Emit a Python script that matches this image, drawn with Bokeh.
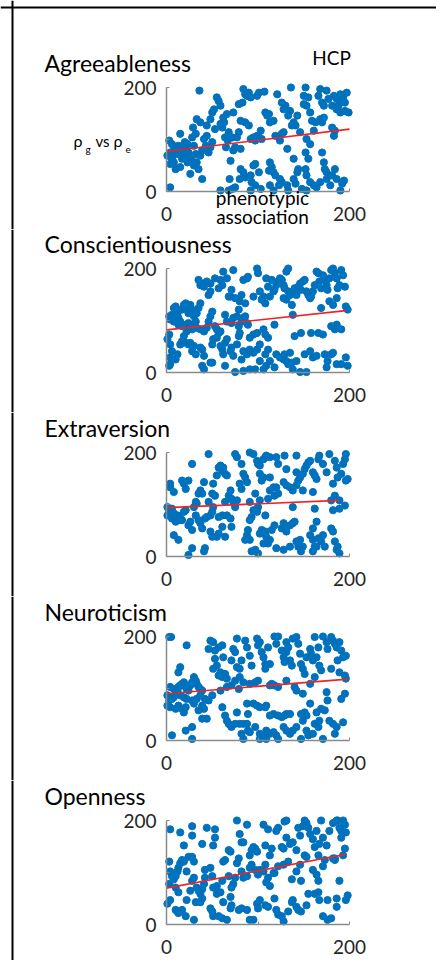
from bokeh.plotting import figure
from bokeh.models import Range1d, FixedTicker, Label, Span
from bokeh.layouts import column
from bokeh.embed import file_html
from bokeh.resources import INLINE

# ---------------- data ----------------
traits = ["Agreeableness", "Conscientiousness", "Extraversion", "Neuroticism", "Openness"]
axis_ticks = [0, 100, 200]
axis_tick_labels = {0: "0", 100: "", 200: "200"}

agreeableness_xy = [
    (3,98),(6,91),(4,75),(1,69),(8,79),(12,82),(13,88),(15,111),(11,72),(6,63),(8,56),(4,53),(10,43),
    (15,47),(17,63),(19,69),(17,79),(21,85),(23,91),(20,95),(24,75),(25,66),(23,56),(28,59),(26,34),
    (30,50),(33,56),(32,72),(30,88),(28,104),(32,111),(29,123),(33,139),(37,133),(36,194),(4,8),(39,24),
    (35,43),(37,69),(39,79),(41,101),(43,88),(44,107),(46,75),(48,85),(50,95),(44,127),(48,139),(50,152),
    (52,158),(55,181),(57,174),(59,165),(53,120),(59,130),(61,123),(63,133),(62,142),(66,149),(64,104),
    (67,98),(68,114),(65,85),(70,59),(73,79),(75,85),(72,104),(77,104),(79,114),(81,82),(69,24),(72,5),
    (59,2),(68,2),(75,8),(80,24),(81,43),(73,152),(79,168),(83,171),(84,197),(86,187),(88,184),(90,190),
    (92,181),(81,136),(86,133),(90,127),(92,101),(95,104),(97,98),(99,107),(101,104),(103,117),(104,101),
    (84,37),(86,27),(92,31),(95,50),(97,53),(101,37),(93,18),(97,12),(103,5),(92,2),(99,184),(101,190),
    (107,192),(108,152),(110,146),(112,149),(113,133),(117,136),(119,107),(121,187),(123,104),(124,98),
    (126,111),(128,114),(113,56),(115,47),(112,40),(117,37),(119,31),(124,24),(126,18),(123,12),(117,2),
    (113,12),(132,12),(133,2),(136,200),(139,24),(141,15),(143,37),(139,63),(144,43),(132,82),(128,158),
    (130,165),(126,171),(133,146),(135,155),(139,133),(141,127),(143,146),(137,127),(146,114),(152,200),
    (150,184),(155,181),(150,168),(153,165),(157,152),(159,136),(161,117),(163,133),(153,101),(157,91),
    (152,75),(155,63),(152,43),(153,31),(157,18),(161,12),(148,5),(153,2),(168,197),(166,184),(170,171),
    (172,165),(175,194),(177,178),(181,165),(183,184),(186,178),(190,187),(192,174),(193,181),(195,171),
    (197,190),(186,158),(188,165),(190,152),(195,155),(199,152),(168,139),(170,133),(172,142),(181,123),
    (184,117),(183,107),(170,75),(172,56),(173,43),(175,37),(181,31),(184,43),(186,24),(192,15),(190,2),
    (179,12),(175,24),(168,18),(164,8),(194,21),
]

conscientiousness_xy = [
    (3,108),(4,102),(6,111),(8,124),(10,127),(12,114),(13,105),(15,98),(17,121),(19,130),(21,133),(22,124),
    (24,114),(26,130),(28,121),(30,108),(32,98),(33,114),(35,124),(37,133),(3,73),(1,64),(4,54),(6,41),
    (4,29),(3,13),(10,25),(12,35),(15,54),(17,60),(19,70),(22,79),(21,57),(24,54),(26,57),(30,51),(28,41),
    (32,35),(37,48),(39,44),(41,32),(39,13),(41,6),(50,19),(8,98),(13,92),(17,89),(21,92),(24,95),(26,89),
    (30,92),(28,83),(33,86),(37,83),(41,79),(44,86),(46,98),(48,108),(50,117),(53,89),(55,83),(57,76),
    (59,79),(55,67),(51,64),(50,54),(59,51),(61,44),(64,57),(66,64),(62,35),(70,41),(73,32),(71,48),(77,54),
    (79,70),(80,76),(82,98),(71,95),(73,105),(77,108),(79,89),(66,98),(64,111),(86,108),(88,95),(89,92),
    (86,133),(80,137),(84,105),(35,178),(37,168),(39,171),(41,165),(44,175),(48,171),(46,149),(48,156),
    (53,181),(57,162),(59,178),(61,168),(62,194),(66,181),(68,146),(70,146),(71,159),(73,197),(75,143),
    (79,121),(82,149),(84,178),(88,181),(89,184),(95,146),(99,200),(100,191),(102,156),(104,140),(106,146),
    (108,133),(109,181),(111,165),(113,146),(115,178),(117,156),(118,159),(120,168),(122,175),(124,181),
    (126,178),(128,168),(129,162),(131,194),(133,200),(128,143),(131,140),(133,156),(135,149),(137,130),
    (138,156),(140,162),(142,149),(144,165),(146,171),(147,159),(149,175),(151,178),(153,156),(155,149),
    (157,143),(158,146),(160,156),(162,168),(164,194),(166,191),(167,175),(169,162),(171,187),(173,178),
    (175,168),(176,159),(178,181),(180,197),(182,200),(184,191),(186,181),(187,162),(189,168),(191,197),
    (193,187),(195,165),(186,143),(178,137),(182,130),(169,124),(196,127),(198,121),(138,111),(91,67),
    (95,73),(99,76),(102,54),(99,44),(95,38),(91,44),(84,41),(88,35),(82,25),(84,3),(91,6),(97,6),(102,22),
    (108,35),(111,44),(113,22),(109,13),(106,6),(118,10),(118,92),(111,67),(108,73),(106,83),(120,35),
    (124,29),(128,25),(129,35),(131,22),(133,16),(137,19),(138,6),(142,22),(135,38),(140,70),(147,76),
    (146,1),(153,1),(151,35),(157,41),(160,29),(164,32),(166,76),(158,76),(171,73),(173,35),(176,22),
    (175,10),(180,35),(182,38),(186,16),(180,89),(184,83),(186,92),(191,83),(196,29),(198,13),(191,16),
    (64,13),(75,1),(48,19),(4,16),
]

extraversion_xy = [
    (1,95),(3,86),(1,79),(4,89),(6,92),(8,83),(10,76),(12,79),(13,70),(15,73),(17,70),(19,86),(21,89),
    (6,73),(10,67),(4,133),(8,124),(4,140),(17,146),(19,140),(21,130),(24,146),(28,178),(8,41),(13,32),
    (24,60),(26,67),(28,51),(30,95),(32,105),(33,102),(35,121),(37,127),(39,121),(41,143),(32,79),(35,70),
    (37,64),(39,54),(42,73),(44,76),(48,79),(50,86),(51,95),(46,105),(50,121),(53,117),(51,140),(55,156),
    (57,171),(59,175),(61,165),(62,171),(64,159),(66,156),(46,197),(42,16),(28,16),(24,3),(41,10),(48,48),
    (50,38),(55,38),(57,44),(61,57),(64,38),(71,57),(70,73),(66,79),(61,79),(57,76),(64,105),(68,117),
    (70,127),(71,111),(73,105),(75,95),(77,108),(75,197),(77,191),(82,178),(84,159),(86,152),(80,140),
    (82,130),(88,143),(91,200),(95,197),(99,184),(100,178),(102,175),(106,187),(108,191),(109,194),
    (113,191),(120,191),(122,178),(102,159),(104,146),(106,152),(97,121),(91,105),(95,89),(99,86),(100,95),
    (102,108),(93,76),(91,70),(89,51),(88,41),(86,32),(91,32),(93,10),(97,13),(100,6),(102,44),(104,51),
    (108,48),(109,38),(113,32),(106,25),(111,25),(115,51),(118,60),(108,79),(111,111),(113,127),(117,133),
    (120,133),(118,117),(122,121),(113,152),(126,54),(128,64),(129,54),(131,48),(135,60),(138,64),(138,95),
    (140,67),(142,29),(146,32),(149,19),(135,19),(128,13),(120,16),(128,143),(131,137),(135,133),(138,127),
    (142,137),(144,146),(142,162),(146,152),(131,168),(129,194),(142,194),(149,159),(151,168),(153,175),
    (155,181),(157,184),(160,162),(162,156),(164,149),(166,187),(167,194),(171,178),(175,162),(178,197),
    (184,184),(186,171),(187,152),(191,159),(193,178),(195,187),(196,197),(198,149),(196,146),(182,140),
    (184,117),(180,108),(160,124),(149,127),(162,92),(164,67),(160,54),(157,41),(160,32),(162,19),(166,35),
    (164,19),(169,29),(173,19),(171,41),(180,54),(182,48),(184,29),(187,19),(189,6),(186,13),(160,10),
    (147,10),(144,19),(182,89),(195,98),(189,92),(189,108),
]

neuroticism_xy = [
    (3,199),(5,199),(22,183),(48,192),(51,189),(46,176),(53,173),(57,179),(61,183),(62,160),(53,157),
    (55,144),(51,138),(59,131),(64,128),(66,119),(61,122),(57,125),(77,196),(73,176),(75,170),(71,154),
    (77,141),(80,138),(82,154),(86,192),(88,179),(91,163),(93,144),(99,196),(100,183),(102,189),(104,170),
    (106,160),(108,147),(111,179),(113,147),(108,138),(118,200),(122,200),(120,186),(126,173),(128,160),
    (129,151),(131,170),(133,179),(131,189),(135,154),(137,144),(138,196),(142,199),(144,186),(146,167),
    (147,147),(149,138),(151,128),(153,160),(157,176),(158,167),(160,154),(162,199),(166,179),(164,160),
    (167,144),(169,135),(171,200),(175,189),(176,176),(180,199),(182,192),(184,186),(186,179),(189,189),
    (191,173),(187,154),(193,160),(196,163),(189,131),(195,125),(196,119),(180,138),(162,122),(157,109),
    (1,87),(3,77),(1,67),(4,64),(6,80),(8,83),(10,90),(12,96),(13,103),(15,106),(17,109),(19,112),(21,103),
    (22,99),(24,96),(26,106),(28,112),(30,122),(32,115),(33,109),(35,103),(37,99),(39,96),(13,131),(15,141),
    (4,103),(8,99),(15,87),(19,83),(22,80),(10,61),(13,67),(17,61),(19,54),(21,64),(28,77),(30,71),(33,80),
    (37,87),(39,67),(41,61),(35,58),(42,80),(46,77),(50,87),(39,42),(44,42),(28,26),(21,19),(6,10),(28,3),
    (59,96),(66,103),(71,106),(75,115),(80,122),(84,112),(79,99),(91,109),(97,112),(100,115),(61,64),
    (64,48),(66,38),(68,32),(70,29),(71,26),(75,32),(77,54),(80,32),(84,32),(88,32),(89,51),(88,71),(95,71),
    (99,67),(102,64),(108,64),(109,67),(82,13),(84,3),(89,19),(91,16),(97,26),(102,13),(108,10),(109,19),
    (113,13),(117,16),(120,10),(122,3),(113,48),(117,51),(122,48),(126,45),(129,48),(131,51),(135,51),
    (128,26),(131,19),(135,13),(138,19),(142,26),(113,106),(115,109),(118,106),(122,103),(131,115),
    (140,103),(142,96),(149,90),(147,51),(151,54),(153,48),(149,38),(153,19),(155,10),(160,13),(162,32),
    (166,26),(167,38),(164,54),(169,61),(173,58),(175,93),(176,77),(178,38),(182,32),(186,26),(184,13),
    (193,35),(191,80),(195,90),(157,71),(147,3),(171,3),(109,3),(102,3),
]

openness_xy = [
    (4,183),(15,177),(19,152),(28,189),(28,171),(39,155),(44,186),(51,152),(53,183),(53,167),(68,143),
    (70,140),(77,200),(80,174),(82,158),(84,158),(88,192),(91,133),(93,143),(95,149),(97,146),(99,140),
    (106,192),(108,152),(111,183),(113,133),(115,146),(120,180),(122,186),(126,149),(128,146),(129,198),
    (131,200),(131,167),(135,155),(138,158),(142,143),(144,186),(146,171),(149,189),(151,200),(153,195),
    (155,186),(153,130),(157,174),(160,164),(162,149),(164,180),(166,133),(167,155),(169,200),(171,167),
    (175,152),(178,180),(182,195),(184,124),(186,200),(187,200),(189,186),(191,180),(193,200),(195,192),
    (196,177),(191,167),(193,133),(3,121),(4,102),(3,78),(6,93),(8,87),(10,93),(12,102),(13,109),(15,118),
    (17,124),(19,121),(22,102),(24,130),(28,130),(30,121),(10,71),(13,62),(4,47),(10,28),(13,22),(17,28),
    (21,16),(22,47),(26,65),(28,84),(30,90),(33,71),(35,65),(37,59),(39,68),(41,78),(42,90),(42,105),
    (48,109),(50,93),(51,71),(55,74),(55,59),(59,62),(61,84),(62,121),(64,124),(68,93),(70,53),(71,71),
    (73,78),(75,90),(77,118),(79,127),(82,102),(84,90),(88,93),(91,109),(93,115),(97,105),(100,96),
    (102,105),(106,102),(108,115),(109,81),(111,90),(113,74),(117,99),(118,99),(122,112),(128,115),
    (133,121),(137,87),(142,102),(146,115),(147,84),(151,133),(160,105),(164,96),(166,84),(171,112),
    (173,124),(182,127),(184,127),(189,84),(195,146),(1,40),(12,25),(30,9),(32,43),(37,43),(39,50),
    (48,31),(50,25),(51,16),(57,16),(61,12),(66,9),(71,37),(79,28),(82,31),(88,28),(91,9),(99,40),(100,31),
    (102,47),(108,37),(111,34),(118,50),(120,28),(122,19),(126,16),(128,6),(133,25),(137,43),(138,47),
    (142,34),(144,28),(147,25),(153,37),(155,59),(162,59),(166,62),(167,47),(171,16),(176,9),(180,12),
    (176,47),(186,50),(198,56),(186,34),(196,47),(62,43),(70,31),(95,9),
]

panel_points = [agreeableness_xy, conscientiousness_xy, extraversion_xy, neuroticism_xy, openness_xy]

# least-squares line: y at x = 0 and at the right end
fit_y_start = [77, 82, 94, 90, 70]
fit_x_end = [200, 196, 189, 198, 196]
fit_y_end = [120, 119, 108, 118, 135]

# ---------------- style ----------------
FONT = "Lato"
DOT = "#0072BD"
FIT = "#ee2424"
AXIS = "#8a8a8a"
TICKTXT = "#262626"

W = 436
FRAME_W, FRAME_H = 183, 104
LEFT = 166
RIGHT = W - LEFT - FRAME_W
SX = FRAME_W / 200.0   # px per data unit
SY = FRAME_H / 200.0
LIFT = 8               # label baseline correction (px)

# (top, bottom) margins of each panel canvas, in px
margins = [(87, 38), (39, 40), (40, 40), (40, 40), (40, 36)]


def lab(p, text, dx_px, dy_px, size, align="left"):
    # offsets in px from the axes origin (dy upward), text baseline
    p.add_layout(Label(x=dx_px / SX, y=(dy_px + LIFT) / SY, text=text, text_font=FONT,
                       text_font_size=size, text_align=align, text_baseline="alphabetic",
                       text_color="black"))


figs = []
for i, name in enumerate(traits):
    top, bottom = margins[i]
    h = top + FRAME_H + bottom
    p = figure(width=W, height=h,
               x_range=Range1d(-LEFT / SX, 200 + RIGHT / SX),
               y_range=Range1d(-bottom / SY, 200 + top / SY),
               output_backend="svg", toolbar_location=None,
               min_border=0, min_border_left=0, min_border_right=0,
               min_border_top=0, min_border_bottom=0)
    p.title.visible = False
    p.outline_line_color = None
    p.grid.visible = False
    p.background_fill_color = "white"
    p.border_fill_color = "white"
    for ax in (p.xaxis[0], p.yaxis[0]):
        ax.fixed_location = 0
        ax.bounds = (0, 200)
        ax.ticker = FixedTicker(ticks=axis_ticks)
        ax.major_label_overrides = axis_tick_labels
        ax.axis_line_color = AXIS
        ax.axis_line_width = 1.5
        ax.major_tick_line_color = AXIS
        ax.major_tick_in = 3
        ax.major_tick_out = 0
        ax.minor_tick_line_color = None
        ax.major_label_text_font = FONT
        ax.major_label_text_font_size = "19px"
        ax.major_label_text_color = TICKTXT
    p.yaxis.major_label_standoff = 10
    p.xaxis.major_label_standoff = 15

    pts = panel_points[i]
    xs = [a for a, b in pts]
    ys = [b for a, b in pts]
    p.scatter(xs, ys, size=7.2, fill_color=DOT, line_color=DOT)
    p.line([0, fit_x_end[i]], [fit_y_start[i], fit_y_end[i]], line_color=FIT, line_width=1.6)

    # black frame of the page (left edge, and top edge on the first panel)
    p.add_layout(Span(location=(12 - LEFT) / SX, dimension="height",
                      line_color="black", line_width=2))
    if i == 0:
        p.add_layout(Span(location=200 + (top - 7) / SY, dimension="width",
                          line_color="black", line_width=2))

    lab(p, name, -122, FRAME_H + 16.5, "23px")
    if i == 0:
        lab(p, "HCP", 165, FRAME_H + 22, "19px", align="center")
        lab(p, "ρ", -93, 43, "16px")
        lab(p, "g", -81, 35, "10px")
        lab(p, "vs", -71, 43, "15px")
        lab(p, "ρ", -53, 43, "16px")
        lab(p, "e", -41, 34, "10px")
        lab(p, "phenotypic", 96, -14, "19px", align="center")
        lab(p, "association", 96, -33, "19px", align="center")
    figs.append(p)

layout = column(*figs, spacing=0)

open("out.html", "w").write(file_html(layout, INLINE))
